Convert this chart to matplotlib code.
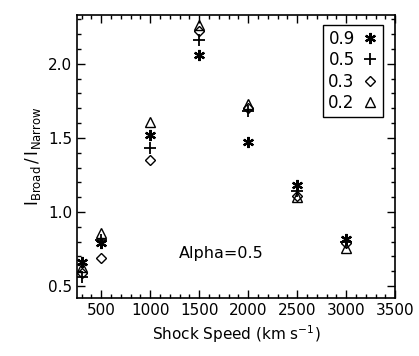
import matplotlib

matplotlib.use("Agg")
import matplotlib.pyplot as plt
from matplotlib.ticker import MultipleLocator

# shock speed (km/s)
speeds = [300, 500, 1000, 1500, 2000, 2500, 3000]
# I_Broad / I_Narrow for each beta value
ratio_09 = [0.66, 0.79, 1.52, 2.06, 1.47, 1.18, 0.82]
ratio_05 = [0.56, 0.81, 1.43, 2.16, 1.68, 1.14, 0.80]
ratio_03 = [0.59, 0.69, 1.35, 2.22, 1.70, 1.11, 0.79]
ratio_02 = [0.63, 0.86, 1.61, 2.26, 1.73, 1.10, 0.76]
series_labels = ["0.9", "0.5", "0.3", "0.2"]

fig = plt.figure(figsize=(4.19, 3.56), dpi=100)
ax = fig.add_axes([0.184, 0.163, 0.759, 0.795])

styles = [
    dict(marker=(6, 2, 0), ms=8, mew=1.6),
    dict(marker="+", ms=9, mew=1.3),
    dict(marker="D", ms=5.5, mew=1.0, mfc="none"),
    dict(marker="^", ms=7.5, mew=1.0, mfc="none"),
]
for vals, lab, st in zip([ratio_09, ratio_05, ratio_03, ratio_02], series_labels, styles):
    ax.plot(speeds, vals, ls="none", color="black", mec="black", label=lab, **st)

ax.set_xlim(255, 3500)
ax.set_ylim(0.42, 2.33)
ax.xaxis.set_major_locator(MultipleLocator(500))
ax.xaxis.set_minor_locator(MultipleLocator(100))
ax.yaxis.set_major_locator(MultipleLocator(0.5))
ax.yaxis.set_minor_locator(MultipleLocator(0.1))
ax.tick_params(which="both", direction="in", top=True, right=True, labelsize=11)
ax.tick_params(which="major", length=6, width=1)
ax.tick_params(which="minor", length=3, width=1)
for s in ax.spines.values():
    s.set_linewidth(1.2)

ax.set_xlabel(r"Shock Speed (km s$^{-1}$)", fontsize=11)
ax.set_ylabel(r"$\mathregular{I_{Broad}\,/\,I_{Narrow}}$", fontsize=12)
ax.text(1290, 0.72, "Alpha=0.5", fontsize=11.5, ha="left", va="center")

leg = ax.legend(loc="upper right", bbox_to_anchor=(0.962, 0.965), borderaxespad=0,
                markerfirst=False, handlelength=1.0, handletextpad=0.4, borderpad=0.3,
                labelspacing=0.2, fontsize=12, fancybox=False, edgecolor="black",
                framealpha=1)
leg.get_frame().set_linewidth(1.0)

fig.savefig("out.png", dpi=100)
plt.close(fig)
